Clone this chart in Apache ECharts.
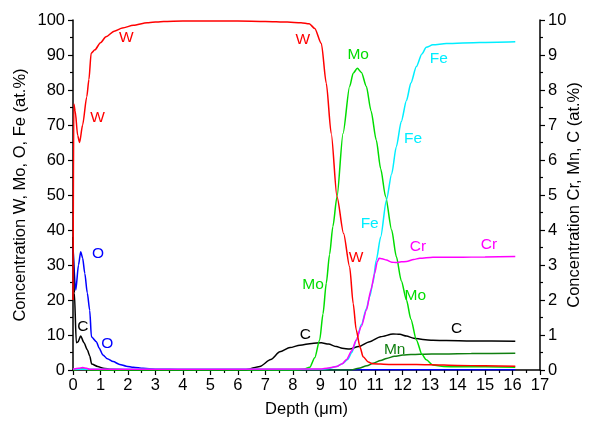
<!DOCTYPE html>
<html>
<head>
<meta charset="utf-8">
<script src="https://cdn.jsdelivr.net/npm/echarts@6/dist/echarts.min.js"></script>
<style>html,body{margin:0;padding:0;background:#fff;}#c{width:589px;height:422px;}</style>
</head>
<body>
<div id="c"></div>
<script>
// ---- Data (depth in µm, concentration in at.%) ----
const wDepth = [0,0.03,0.08,0.17,0.24,0.35,0.5,0.58,0.66,0.8,1.0,1.2,1.5,1.8,2.2,2.7,3.3,4,5,6,7,7.8,8.3,8.6,8.8,9.04,9.22,9.4,9.61,9.85,10.07,10.2,10.31,10.45,10.56,10.75,10.9,11.5,12,13,14,15,16.1];
const wConc  = [20,76,74,67,65,70,78,83,90.5,91.5,93.5,95.2,96.8,97.7,98.5,99.2,99.6,99.7,99.7,99.7,99.6,99.4,99.2,98.9,97.6,93.3,81.9,67.6,49.5,39,29.5,19,11.4,6.5,3.8,2.3,1.8,1.6,1.6,1.5,1.3,1.2,1.1];

const moDepth = [0,0.3,0.5,1,8,8.4,8.62,8.8,8.98,9.1,9.22,9.34,9.46,9.61,9.83,10.07,10.2,10.35,10.5,10.68,10.85,11.04,11.2,11.38,11.6,11.77,11.95,12.14,12.3,12.5,12.7,12.86,13.1,13.5,14,15,16.1];
const moConc  = [0,0.3,0.1,0,0,0.2,0.8,3.5,8.6,16,24.8,33,41,49.5,67.6,81,84.8,86.2,85,81,74,65.7,57.5,49.5,40,32.4,25.5,20,14.5,8.6,4.5,2.9,1.4,1.0,0.9,0.9,0.8];

const oDepth = [0,0.1,0.2,0.28,0.35,0.43,0.52,0.61,0.67,0.85,0.95,1.09,1.25,1.46,1.7,1.94,2.2,2.55,3,4,8,12,16.1];
const oConc  = [35,22.8,30,33.8,32,27.6,22,17,9.5,8.1,6.3,4.3,3.2,2.4,1.6,1.1,0.8,0.5,0.25,0.15,0.1,0.1,0.1];

const feDepth = [0,9,9.3,9.6,9.8,10.0,10.15,10.31,10.5,10.68,10.8,10.92,11.04,11.2,11.41,11.6,11.77,11.95,12.14,12.3,12.5,12.7,12.86,13.1,13.59,14.8,16.1];
const feConc  = [0.2,0.2,0.4,1.0,1.8,3,5,8.5,13,17.5,21,25,31.4,38,48.6,56,63.8,71,77,82,86.7,90.3,92.2,92.9,93.3,93.6,93.8];

const crDepth = [0,0.2,0.35,0.5,0.6,1,9,9.3,9.59,9.8,9.95,10.15,10.31,10.5,10.68,10.85,10.98,11.08,11.14,11.25,11.41,11.6,11.77,11.95,12.14,12.4,12.62,13.1,14,15,16.1];
const crConc  = [0.02,0.05,0.07,0.05,0.02,0.02,0.03,0.06,0.1,0.18,0.29,0.55,0.86,1.25,1.71,2.3,2.76,3.1,3.19,3.18,3.14,3.08,3.07,3.09,3.1,3.16,3.19,3.22,3.22,3.23,3.24];

const cDepth = [0,0.05,0.12,0.18,0.28,0.4,0.52,0.61,0.68,0.9,1.1,1.4,2,6.3,6.8,7.2,7.53,7.9,8.26,8.7,9.04,9.3,9.59,9.8,10.07,10.4,10.8,11.2,11.65,11.9,12.14,12.4,12.74,13.1,13.59,14.5,16.1];
const cConc  = [3.8,2.2,0.78,0.8,0.97,0.78,0.58,0.4,0.17,0.1,0.05,0.02,0.01,0.01,0.1,0.3,0.52,0.64,0.71,0.76,0.78,0.74,0.67,0.62,0.6,0.67,0.81,0.95,1.03,1.02,0.97,0.91,0.87,0.85,0.84,0.83,0.82];

const mnDepth = [0,0.3,0.5,0.7,10.1,10.4,10.7,10.92,11.2,11.41,11.7,12.01,12.3,12.62,13.5,14.5,16.1];
const mnConc  = [0,0.02,0.02,0,0,0.05,0.12,0.19,0.27,0.33,0.39,0.43,0.44,0.45,0.46,0.47,0.48];

// in-plot element labels, [depth, concentration] on the series' own axis
const wLabels  = [[1.94,95],[0.89,72.2],[8.37,94.3],[10.3,32.2]];
const moLabels = [[10.38,90],[8.74,24.3],[12.46,21.2]];
const oLabels  = [[0.91,33.3],[1.25,7.4]];
const feLabels = [[13.32,89],[12.38,66.2],[10.8,41.7]];
const crLabels = [[12.56,3.52],[15.14,3.57]];
const cLabels  = [[0.36,1.24],[8.46,1.0],[13.96,1.19]];
const mnLabels = [[11.71,0.57]];

const xTicks = [0,17,1];
const leftTicks = [0,100,10];
const rightTicks = [0,10,1];

// ---- Chart ----
const FONT = 'Liberation Sans, Arial, sans-serif';
const zip = (a, b) => a.map((v, i) => [v, b[i]]);
function mk(name, color, depth, conc, yIdx, labels) {
  return {
    name, type: 'line', yAxisIndex: yIdx, data: zip(depth, conc),
    showSymbol: false, symbol: 'none', smooth: 0.25, smoothMonotone: 'x',
    lineStyle: { color, width: 1.5 }, itemStyle: { color },
    z: 3,
    markPoint: {
      symbol: 'circle', symbolSize: 1, itemStyle: { color: 'rgba(0,0,0,0)' },
      label: { show: true, position: 'inside', formatter: '{b}', color, fontSize: 15.5, fontFamily: FONT },
      data: labels.map(p => ({ name, coord: p }))
    }
  };
}
const chart = echarts.init(document.getElementById('c'), null, { renderer: 'canvas' });
const tickFont = { color: '#000', fontSize: 16.5, fontFamily: FONT };
const nameFont = { color: '#000', fontSize: 16.5, fontFamily: FONT };
chart.setOption({
  animation: false,
  backgroundColor: '#fff',
  grid: { left: 73, right: 49, top: 20, bottom: 52, containLabel: false, outerBoundsMode: 'none' },
  xAxis: {
    type: 'value', min: xTicks[0], max: xTicks[1], interval: xTicks[2],
    name: 'Depth (\u03bcm)', nameLocation: 'middle', nameGap: 31, nameMoveOverlap: false,
    nameTextStyle: nameFont,
    axisLine: { show: true, onZero: false, lineStyle: { color: '#000', width: 1.5 } },
    axisTick: { show: true, length: 5, lineStyle: { color: '#000', width: 1.2 } },
    minorTick: { show: true, splitNumber: 2, length: 3, lineStyle: { color: '#000', width: 1.2 } },
    axisLabel: Object.assign({ margin: 7 }, tickFont),
    splitLine: { show: false }
  },
  yAxis: [{
    type: 'value', min: leftTicks[0], max: leftTicks[1], interval: leftTicks[2], position: 'left',
    name: 'Concentration W, Mo, O, Fe (at.%)', nameLocation: 'middle', nameGap: 44, nameMoveOverlap: false,
    nameTextStyle: nameFont,
    axisLine: { show: true, lineStyle: { color: '#000', width: 1.5 } },
    axisTick: { show: true, length: 5, lineStyle: { color: '#000', width: 1.2 } },
    minorTick: { show: true, splitNumber: 2, length: 3, lineStyle: { color: '#000', width: 1.2 } },
    axisLabel: Object.assign({ margin: 8 }, tickFont),
    splitLine: { show: false }
  }, {
    type: 'value', min: rightTicks[0], max: rightTicks[1], interval: rightTicks[2], position: 'right',
    name: 'Concentration Cr, Mn, C (at.%)', nameLocation: 'middle', nameGap: 26, nameMoveOverlap: false,
    nameTextStyle: nameFont,
    axisLine: { show: true, lineStyle: { color: '#000', width: 1.5 } },
    axisTick: { show: true, length: 5, lineStyle: { color: '#000', width: 1.2 } },
    minorTick: { show: true, splitNumber: 2, length: 3, lineStyle: { color: '#000', width: 1.2 } },
    axisLabel: Object.assign({ margin: 8 }, tickFont),
    splitLine: { show: false }
  }],
  series: [
    mk('O', '#0000ff', oDepth, oConc, 0, oLabels),
    mk('Mn', '#107f10', mnDepth, mnConc, 1, mnLabels),
    mk('C', '#000000', cDepth, cConc, 1, cLabels),
    mk('Mo', '#00dd00', moDepth, moConc, 0, moLabels),
    mk('Fe', '#00eeff', feDepth, feConc, 0, feLabels),
    mk('Cr', '#ff00ff', crDepth, crConc, 1, crLabels),
    mk('W', '#ff0000', wDepth, wConc, 0, wLabels)
  ]
});
</script>
</body>
</html>
